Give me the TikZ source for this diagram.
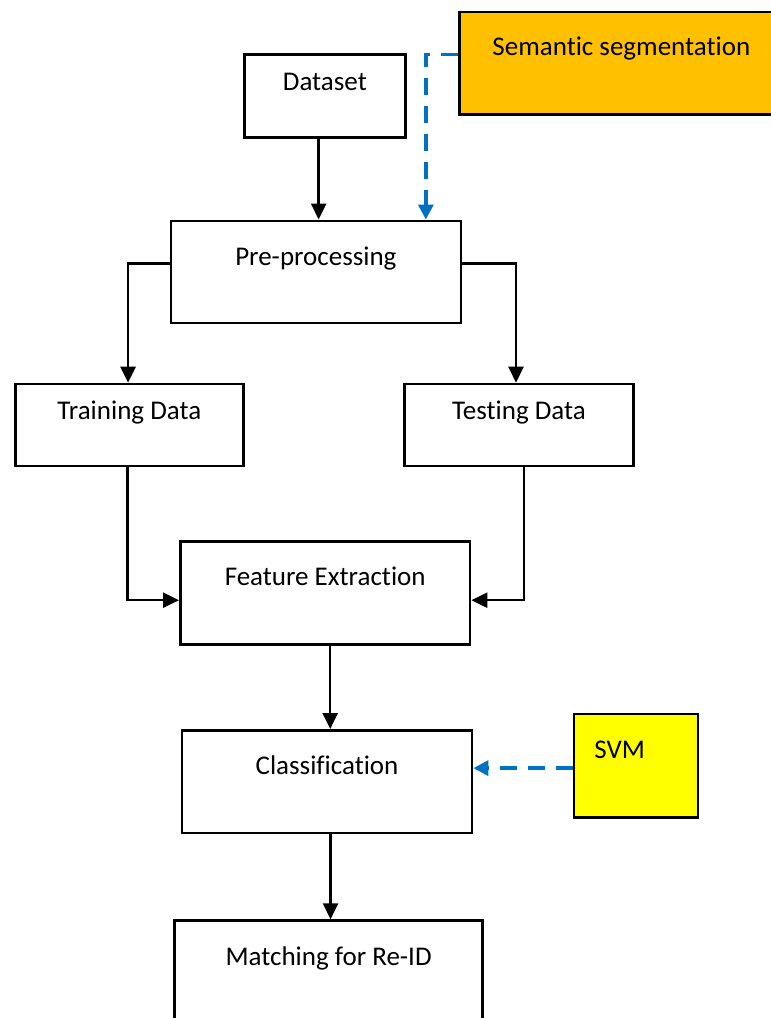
\documentclass[tikz,border=0pt]{standalone}
\usepackage{fontspec}
\setmainfont{Carlito}[Ligatures={NoCommon,NoContextual,NoRare},Contextuals={NoAlternate}]
\usetikzlibrary{arrows.meta}
\definecolor{segorange}{HTML}{FFC000}
\definecolor{svmyellow}{HTML}{FFFF00}
\definecolor{linkblue}{HTML}{0070C0}
% keep "t" and "i" as separate glyphs
\newcommand{\tI}{t\kern0pt i}
\tikzset{
  box/.style={draw=black, line width=2.7pt, rectangle, inner sep=0pt, anchor=north west},
  lbl/.style={font=\fontsize{27}{32}\selectfont, inner sep=0pt, anchor=base},
  flow/.style={draw=black, line width=2.5pt, -{Triangle[length=16pt,width=15pt]}},
  hint/.style={draw=linkblue, line width=3.4pt, dash pattern=on 17pt off 11pt,
    -{Triangle[length=15pt,width=15pt]}}
}
\begin{document}
\begin{tikzpicture}[x=1pt,y=-1pt]
\useasboundingbox (0,0) rectangle (771,1018);
\clip (0,0) rectangle (771,1018);
\fill[white] (0,0) rectangle (771,1018);

% boxes
\node[box, fill=segorange, minimum width=324pt, minimum height=102.5pt] (sem) at (458,10.7) {};
\node[box, minimum width=161pt, minimum height=83pt] (data) at (243,53.3) {};
\node[box, minimum width=290pt, minimum height=102.2pt] (pre) at (169.5,219.5) {};
\node[box, minimum width=228pt, minimum height=82pt] (train) at (14,382.7) {};
\node[box, minimum width=228.7pt, minimum height=82pt] (test) at (403.3,382.7) {};
\node[box, minimum width=289.7pt, minimum height=102.7pt] (feat) at (179,540.3) {};
\node[box, minimum width=290pt, minimum height=102.7pt] (cls) at (180.7,729) {};
\node[box, fill=svmyellow, minimum width=124pt, minimum height=103.3pt] (svm) at (572.7,712.7) {};
\node[box, minimum width=308pt, minimum height=130pt] (match) at (173.3,919.3) {};

% labels
\node[lbl] at ([yshift=-44.3pt]sem.north) {Seman\tI c segmentation};
\node[lbl] at ([yshift=-36.7pt]data.north) {Dataset};
\node[lbl] at ([yshift=-45.5pt]pre.north) {Pre-processing};
\node[lbl] at ([yshift=-36.3pt]train.north) {Training Data};
\node[lbl] at ([yshift=-36.3pt]test.north) {Tes\tI ng Data};
\node[lbl] at ([yshift=-45pt]feat.north) {Feature Extrac\tI on};
\node[lbl] at ([yshift=-45pt]cls.north) {Classifica\tI on};
\node[lbl, anchor=base west] at ([xshift=21.5pt,yshift=-45.6pt]svm.north west) {SVM};
\node[lbl] at ([yshift=-45.7pt]match.north) {Matching for Re-ID};

% main flow
\draw[flow] ([xshift=-6.2pt]data.south) -- ([xshift=-6.2pt]data.south |- pre.north);
\draw[flow] ([yshift=8.3pt]pre.west) -| ([xshift=-1.3pt]train.north);
\draw[flow] ([yshift=8.3pt]pre.east) -| ([xshift=-3pt]test.north);
\draw[flow] ([xshift=-1.7pt]train.south) |- ([yshift=-7.2pt]feat.west);
\draw[flow] ([xshift=5pt]test.south) |- ([yshift=-7.2pt]feat.east);
\draw[flow] ([xshift=5pt]feat.south) -- ([xshift=5pt]feat.south |- cls.north);
\draw[flow] ([xshift=3.5pt]cls.south) -- ([xshift=3.5pt]cls.south |- match.north);

% auxiliary inputs
\draw[hint] ([yshift=9pt]sem.west) -| ([xshift=110pt]pre.north);
\draw[hint] ([yshift=-2.4pt]svm.west) -- ([yshift=-2.4pt]svm.west -| cls.east);
\end{tikzpicture}
\end{document}
